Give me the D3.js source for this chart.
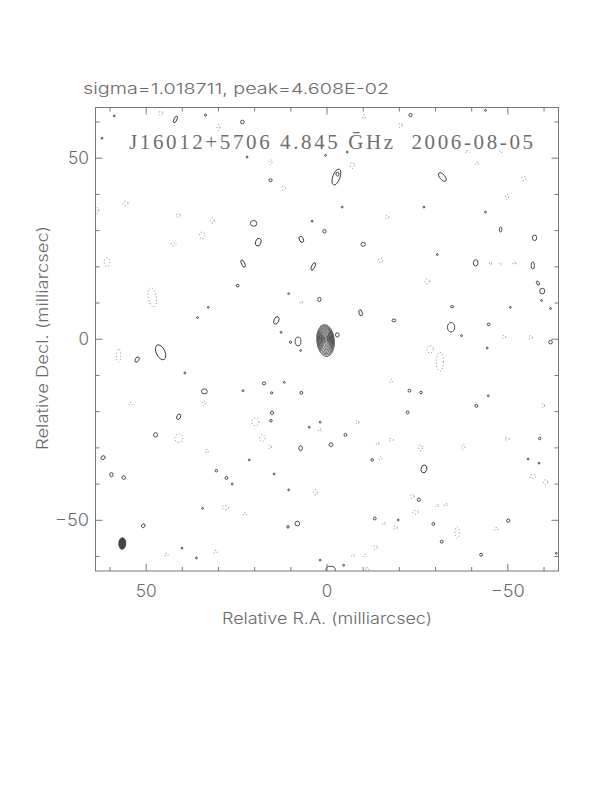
<!DOCTYPE html>
<html><head><meta charset="utf-8">
<script src="https://cdn.jsdelivr.net/npm/d3@7"></script>
<style>body{margin:0;background:#fff}</style>
</head><body>
<svg id="c" width="612" height="792" xmlns="http://www.w3.org/2000/svg"></svg>
<script>
// ---------- DATA (milliarcsec) ----------
const xDomain = [64, -64];
const yDomain = [-64, 64];
const majorTicks = [-50, 0, 50];
const minorTicks = [-60, -40, -30, -20, -10, 10, 20, 30, 40, 60];
const tickLabels = {"50": "50", "0": "0", "-50": "\u221250"};
const headerText = "sigma=1.018711, peak=4.608E-02";
const titleText = "J16012+5706 4.845 \u1E20Hz  2006-08-05";
const xLabel = "Relative R.A. (milliarcsec)";
const yLabel = "Relative Decl. (milliarcsec)";

// core contours: [ra, dec, rx, ry, angle]
const coreContours = [
  [0.40, -0.35, 2.45, 4.45, -5],
  [0.40, -0.30, 2.27, 4.12, -5],
  [0.39, -0.26, 2.09, 3.79, -5],
  [0.38, -0.22, 1.91, 3.46, -5],
  [0.37, -0.18, 1.73, 3.13, -5],
  [0.36, -0.14, 1.55, 2.80, -5],
  [0.35, -0.10, 1.37, 2.47, -5],
  [0.34, -0.06, 1.19, 2.14, -5],
  [0.33, -0.02, 1.01, 1.81, -5],
  [0.31, 0.02, 0.83, 1.48, -5],
  [0.30, 0.05, 0.64, 1.14, -5],
  [0.29, 0.07, 0.45, 0.80, -5],
  [0.28, 0.08, 0.25, 0.45, -5]
];

// positive noise contours: [ra, dec, rx, ry, angle]
const positiveContours = [
  [58.8,61.7,.25,.25,0],[41.9,60.7,.4,1.0,25],[33.6,61.9,.3,.3,0],[23.4,60.0,.5,.5,0],
  [62.2,55.5,.25,.25,0],[22.1,50.3,.25,.25,0],[0.4,50.8,.25,.25,0],[15.6,43.9,.45,.4,0],
  [4.1,32.6,.25,.25,0],[20.3,32.0,.9,.8,0],[0.7,29.8,.45,.5,0],[19.0,26.8,.75,1.1,20],
  [7.1,27.6,.55,.9,-25],[23.2,20.9,.45,1.1,-25],[3.8,20.1,.45,1.15,25],[24.7,14.8,.4,.35,0],
  [10.6,12.6,.25,.25,0],[32.8,8.8,.25,.25,0],[2.1,11.0,.45,.6,0],[35.8,6.0,.25,.25,0],
  [14.0,5.2,.65,1.1,25],[12.7,1.9,.25,.25,0],[8.0,-0.6,.8,1.2,0],[10.1,-0.8,.3,.35,0],
  [7.3,-3.1,.25,.25,0],[-2.85,1.2,.5,.6,0],
  [-23.1,61.9,.45,.45,0],[-43.8,63.2,.25,.25,0],[-5.6,51.7,.25,.25,0],[-2.6,44.8,1.0,2.3,20],
  [-2.9,45.6,.45,.55,0],[-31.9,44.8,.7,1.45,-40],[-4.2,36.5,.25,.25,0],[-26.8,36.5,.25,.25,0],
  [-43.8,35.1,.25,.25,0],[-48.0,30.3,.35,.7,0],[-57.4,28.0,.6,.75,0],[-10.0,26.2,.6,.55,0],
  [-30.5,23.4,.25,.25,0],[-41.1,21.1,.65,.85,0],[-56.9,20.4,.45,1.0,0],[-58.3,15.5,.35,.6,-30],
  [-59.5,13.3,.7,.8,0],[-59.3,10.7,.25,.25,0],[-61.8,8.5,.25,.25,0],[-50.7,8.8,.25,.25,0],
  [-9.3,7.3,.45,.9,-15],[-18.5,5.2,.55,.4,0],[-34.6,9.0,.45,.3,0],[-34.3,3.3,1.0,1.3,0],
  [-44.7,4.1,.4,.35,0],[-37.2,1.0,.25,.25,0],
  [52.5,-5.6,.5,.8,30],[46.0,-3.6,1.2,2.2,-25],[39.3,-9.3,.25,.25,0],[33.9,-14.4,.8,.7,0],
  [23.2,-14.2,.25,.25,0],[17.4,-12.2,.45,.4,0],[11.8,-11.9,.25,.25,0],[15.3,-14.8,.3,.3,0],
  [7.1,-14.8,.4,.4,0],[41.0,-21.4,.5,.8,25],[15.2,-20.3,.45,.45,0],[15.5,-22.5,.35,.35,0],
  [4.9,-24.3,.25,.25,0],[1.9,-22.9,.25,.25,0],[47.4,-26.4,.55,.6,0],[7.3,-30.1,.5,.7,0],
  [-1.1,-29.1,.55,.5,0],[61.9,-32.7,.6,.5,-30],[21.5,-33.3,.25,.25,0],[59.6,-37.4,.45,.6,0],
  [56.2,-38.2,.5,.5,0],[30.6,-36.3,.35,.35,0],[27.8,-38.3,.4,.4,0],[26.2,-40.0,.25,.25,0],
  [14.6,-37.2,.25,.25,0],[10.6,-41.6,.25,.25,0],[34.4,-46.7,.25,.25,0],[50.8,-51.5,.45,.55,30],
  [10.8,-51.8,.35,.35,0],[8.2,-50.9,.65,.65,0],[40.1,-57.7,.25,.25,0],[36.1,-60.4,.25,.25,0],
  [1.9,-61.0,.25,.25,0],[-1.0,-63.6,1.3,.9,0],
  [-44.3,-2.4,.25,.25,0],[-61.8,-0.8,.5,.5,0],[-22.8,-14.2,.4,.4,0],[-26.0,-14.7,.35,.35,0],
  [-44.6,-15.6,.25,.25,0],[-41.3,-18.4,.4,.4,0],[-22.3,-20.2,.4,.4,0],[-5.1,-26.4,.4,.4,0],
  [-58.8,-27.4,.35,.35,0],[-12.5,-33.3,.35,.35,0],[-55.6,-33.1,.25,.25,0],[-58.6,-34.2,.25,.25,0],
  [-26.8,-35.8,.8,1.1,15],[-25.4,-44.3,.45,.45,0],[-13.2,-49.5,.4,.4,0],[-19.7,-49.9,.25,.25,0],
  [-29.4,-51.0,.4,.4,0],[-31.7,-55.9,.4,.4,0],[-50.1,-50.1,.45,.45,0],[-42.6,-59.5,.4,.4,0],
  [-63.4,-59.1,.25,.25,0],[-4.6,-62.4,.25,.25,0]
];

// negative noise contours: [ra, dec, rx, ry, angle]
const negativeContours = [
  [46.0,62.4,.5,.6,0],[30.0,58.5,.4,.8,0],[15.6,48.9,.4,.7,0],[12.0,41.7,.5,.6,0],
  [55.7,37.5,.7,.6,0],[63.5,35.6,.4,.8,0],[41.1,34.2,.6,.5,0],[31.7,32.8,.5,.7,0],
  [34.5,28.7,.8,.9,0],[42.4,26.2,.7,.4,0],[60.8,21.3,.8,1.2,0],[48.3,11.6,1.1,2.7,-10],
  [7.1,10.2,.4,.4,0],[-10.2,61.4,.4,.5,0],[-20.3,59.1,.5,.6,0],[-38.8,51.7,.6,.3,0],
  [-48.0,51.7,.3,.3,0],[-7.0,48.0,.6,.8,0],[-41.5,48.5,.5,.4,0],[-54.4,44.4,.6,.6,0],
  [-49.8,39.3,.4,.7,0],[-16.6,33.7,.5,.5,0],[-14.8,21.8,.6,.6,0],[-45.2,20.9,.3,.4,0],
  [-48.0,20.9,.3,.3,0],[-51.8,21.0,.4,.4,0],[-27.7,16.0,.6,.7,0],[-48.9,0.6,.5,.5,0],
  [-56.3,0.5,.5,.5,0],[57.6,-4.5,.6,1.8,0],[34.1,-17.7,.4,.7,0],[54.3,-17.9,.5,.4,0],
  [19.8,-22.8,1.0,1.1,0],[2.0,-25.1,.4,.4,0],[41.0,-27.3,1.1,1.2,0],[17.9,-27.3,.8,.9,0],
  [15.8,-29.7,.4,.6,0],[33.2,-30.9,.4,.5,0],[3.2,-42.3,.5,.7,0],[28.1,-46.5,.9,.6,0],
  [22.7,-48.3,.5,.4,0],[44.4,-59.5,.5,.4,0],[30.8,-58.7,.5,.4,0],[-28.5,-2.8,.9,1.0,0],
  [-31.2,-6.2,1.0,2.6,0],[-17.8,-11.6,.4,.5,0],[-59.7,-18.3,.4,.6,0],[-8.4,-22.9,.4,.6,0],
  [-17.8,-27.8,.6,.4,0],[-49.8,-27.5,.6,.4,0],[-14.0,-28.8,.4,.4,0],[-25.9,-30.0,.5,.8,0],
  [-37.7,-29.7,.4,.7,0],[-14.8,-32.9,.5,.4,0],[-56.9,-37.9,.8,.6,0],[-60.4,-39.5,.6,.7,0],
  [-23.6,-43.4,.5,.6,0],[-24.5,-47.8,.8,.5,0],[-30.5,-46.0,.4,.4,0],[-32.8,-45.7,.4,.4,0],
  [-18.9,-52.0,.5,.5,0],[-15.7,-50.9,.4,.4,0],[-36.0,-53.4,.6,1.6,0],[-46.8,-52.4,.5,.4,0],
  [-13.4,-57.5,.5,.6,0],[-10.6,-59.8,.5,.4,0],[-7.2,-59.8,.4,.4,0],[-11.1,-63.5,.5,.4,0]
];

// restoring beam: [ra, dec, rx, ry, angle]
const beam = [56.6, -56.4, 0.97, 1.6, 3];

// ---------- DRAW ----------
const svg = d3.select("#c");
const L = 95.5, R = 558.5, T = 107.5, B = 571;
const x = d3.scaleLinear().domain(xDomain).range([L, R]);
const y = d3.scaleLinear().domain(yDomain).range([B, T]);
const sx = v => Math.abs(x(v) - x(0));
const sy = v => Math.abs(y(v) - y(0));
const textColor = "#6a6a6a";
const font = "Inter, 'Liberation Sans', Arial, sans-serif";
const fontWeight = 300;

svg.append("defs").append("clipPath").attr("id", "clip")
  .append("rect").attr("x", L).attr("y", T).attr("width", R - L).attr("height", B - T);

const g = svg.append("g").attr("clip-path", "url(#clip)");

function drawEllipses(data, cls, stroke, width, dash, fill) {
  g.append("g").selectAll("ellipse." + cls).data(data).join("ellipse")
    .attr("class", cls)
    .attr("cx", d => x(d[0])).attr("cy", d => y(d[1]))
    .attr("rx", d => sx(d[2])).attr("ry", d => sy(d[3]))
    .attr("transform", d => `rotate(${d[4]},${x(d[0])},${y(d[1])})`)
    .attr("fill", fill || "none").attr("stroke", stroke)
    .attr("stroke-width", width)
    .attr("stroke-dasharray", dash || null);
}
drawEllipses(negativeContours, "neg", "#666", 0.8, "1,2.2");
drawEllipses(positiveContours, "pos", "#222", 0.8);
drawEllipses(coreContours, "core", "#333", 0.7);
drawEllipses([beam], "beam", "#333", 0.8, null, "#444");

// frame
svg.append("rect").attr("x", L).attr("y", T).attr("width", R - L).attr("height", B - T)
  .attr("fill", "none").attr("stroke", "#777").attr("stroke-width", 1);

// ticks (inward, all four sides)
const tk = svg.append("g").attr("stroke", "#777").attr("stroke-width", 1);
const allTicks = majorTicks.map(v => [v, 7]).concat(minorTicks.map(v => [v, 4]));
allTicks.forEach(([v, len]) => {
  tk.append("line").attr("x1", x(v)).attr("x2", x(v)).attr("y1", B).attr("y2", B - len);
  tk.append("line").attr("x1", x(v)).attr("x2", x(v)).attr("y1", T).attr("y2", T + len);
  tk.append("line").attr("y1", y(v)).attr("y2", y(v)).attr("x1", L).attr("x2", L + len);
  tk.append("line").attr("y1", y(v)).attr("y2", y(v)).attr("x1", R).attr("x2", R - len);
});

function fitText(sel, width, mode) {
  const w = sel.node().getComputedTextLength();
  if (w > 0 && width) sel.attr("textLength", width).attr("lengthAdjust", mode || "spacingAndGlyphs");
  return sel;
}
function txt(xp, yp, anchor, size, s, fam) {
  return svg.append("text").attr("x", xp).attr("y", yp).attr("text-anchor", anchor)
    .attr("font-family", fam || font).attr("font-weight", fam ? null : fontWeight)
    .attr("font-size", size).attr("fill", textColor).style("white-space", "pre").text(s);
}

// tick labels
majorTicks.forEach(v => {
  const w = v < 0 ? 34 : (v > 0 ? 21 : null);
  fitText(txt(x(v), 597, "middle", 17, tickLabels[String(v)]), w);
  fitText(txt(89, y(v) + 6, "end", 17, tickLabels[String(v)]), w);
});

// header
fitText(txt(83, 94, "start", 15, headerText), 306);

// title
fitText(txt(129, 148.5, "start", 21, titleText, "'Liberation Serif', 'DejaVu Serif', serif")
  .attr("fill", "#6f6f6f"), 404, "spacing");

// axis labels
fitText(txt(327, 624, "middle", 15.5, xLabel), 210);
fitText(svg.append("text").attr("transform", "translate(48,338) rotate(-90)").attr("text-anchor", "middle")
  .attr("font-family", font).attr("font-weight", fontWeight).attr("font-size", 15.5)
  .attr("fill", textColor).text(yLabel), 224);
</script>
</body></html>
